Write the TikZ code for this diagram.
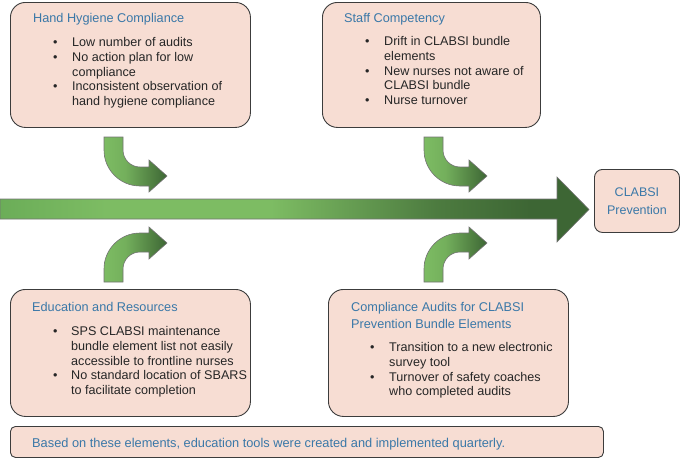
\documentclass[tikz,border=0pt]{standalone}
\usepackage{fontspec}
\setmainfont{Liberation Sans}
\definecolor{boxfill}{HTML}{F7DDD3}
\definecolor{boxdraw}{HTML}{3C3C3C}
\definecolor{titleblue}{HTML}{3A78A8}
\definecolor{glight}{HTML}{7DBC63}
\definecolor{gmid}{HTML}{6BAD58}
\definecolor{gdark}{HTML}{3D6634}
\pgfdeclarehorizontalshading{mainshade}{100bp}{color(0bp)=(gmid); color(25bp)=(gmid); color(34bp)=(glight); color(48bp)=(glight); color(62bp)=(gdark!75!glight); color(70bp)=(gdark); color(100bp)=(gdark)}
\pgfdeclarehorizontalshading{bentshade}{100bp}{color(0bp)=(glight); color(25bp)=(glight); color(42bp)=(glight!85!gdark); color(75bp)=(gdark); color(100bp)=(gdark)}
\newcommand{\titlefont}{\fontsize{12.7}{17}\selectfont\color{titleblue}}
\newcommand{\bodyfont}{\fontsize{12.6}{14.75}\selectfont\color{black!85}}
\newcommand{\bentpath}{\path[arrowline, shading=bentshade]
      (0,0) -- (0,13) .. controls (0,32.9) and (16.1,49) .. (36,49)
      -- (45,49) -- (45,55) -- (63,39) -- (45,23) -- (45,30) -- (36,30)
      .. controls (26.6,30) and (19,22.4) .. (19,13) -- (19,0) -- cycle;}
\begin{document}
\begin{tikzpicture}[x=1pt,y=-1pt,
  box/.style={draw=boxdraw, line width=0.9pt, fill=boxfill, rounded corners=15pt, inner sep=0pt, anchor=north west},
  title/.style={anchor=base west, inner sep=0pt, font=\titlefont, align=left},
  body/.style={anchor=base west, inner sep=0pt, font=\bodyfont},
  arrowline/.style={draw=black!55, line width=0.6pt}]
\useasboundingbox (0,0) rectangle (680,458);

% boxes
\node[box, minimum width=240pt, minimum height=125pt] (hh) at (10,2) {};
\node[box, minimum width=218pt, minimum height=125pt] (sc) at (322,2) {};
\node[box, minimum width=240pt, minimum height=127pt] (er) at (10,289) {};
\node[box, minimum width=240pt, minimum height=127pt] (ca) at (328,289) {};
\node[box, rounded corners=5pt, minimum width=593pt, minimum height=31pt] (bn) at (10,426) {};
\node[box, rounded corners=8pt, minimum width=85pt, minimum height=63pt] (cp) at (594,169) {};

% main arrow
\path[arrowline, shading=mainshade]
  (0,199) -- (557,199) -- (557,177) -- (589,209.5) -- (557,242) -- (557,219) -- (0,219) -- cycle;
\coordinate (tip) at (589,209.5);

% bent arrows
\begin{scope}[shift={(104,137)}]
  \bentpath
\end{scope}
\begin{scope}[shift={(424,137)}]
  \bentpath
\end{scope}
\begin{scope}[shift={(104,282)}, yscale=-1]
  \bentpath
\end{scope}
\begin{scope}[shift={(424,282)}, yscale=-1]
  \bentpath
\end{scope}

% texts
\node[title] (hht) at (33,22.5) {Hand Hygiene Compliance};
\node[body] (hhb) at (53,46.5) {\begin{tabular}[t]{@{}p{19pt}@{}l@{}}
\textbullet & Low number of audits\\
\textbullet & No action plan for low\\
 & compliance\\
\textbullet & Inconsistent observation of\\
 & hand hygiene compliance
\end{tabular}};

\node[title] (sct) at (344,22.5) {Staff Competency};
\node[body] (scb) at (365,45.5) {\begin{tabular}[t]{@{}p{19pt}@{}l@{}}
\textbullet & Drift in CLABSI bundle\\
 & elements\\
\textbullet & New nurses not aware of\\
 & CLABSI bundle\\
\textbullet & Nurse turnover
\end{tabular}};

\node[title] (ert) at (32,311.5) {Education and Resources};
\node[body] (erb) at (53,335.5) {\begin{tabular}[t]{@{}p{18pt}@{}l@{}}
\textbullet & SPS CLABSI maintenance\\
 & bundle element list not easily\\
 & accessible to frontline nurses\\
\textbullet & No standard location of SBARS\\
 & to facilitate completion
\end{tabular}};

\node[title] (cat1) at (351,311.5) {Compliance Audits for CLABSI};
\node[title] (cat2) at (351,328.5) {Prevention Bundle Elements};
\node[body] (cab) at (370,351.5) {\begin{tabular}[t]{@{}p{19pt}@{}l@{}}
\textbullet & Transition to a new electronic\\
 & survey tool\\
\textbullet & Turnover of safety coaches\\
 & who completed audits
\end{tabular}};

\node[title, font=\fontsize{12.8}{17}\selectfont\color{titleblue}] (bnt) at (32,447.5) {Based on these elements, education tools were created and implemented quarterly.};

\node[inner sep=0pt, align=center, font=\fontsize{12.5}{18}\selectfont\color{titleblue}] (cpt) at (cp.center) {CLABSI\\Prevention};
\end{tikzpicture}
\end{document}
